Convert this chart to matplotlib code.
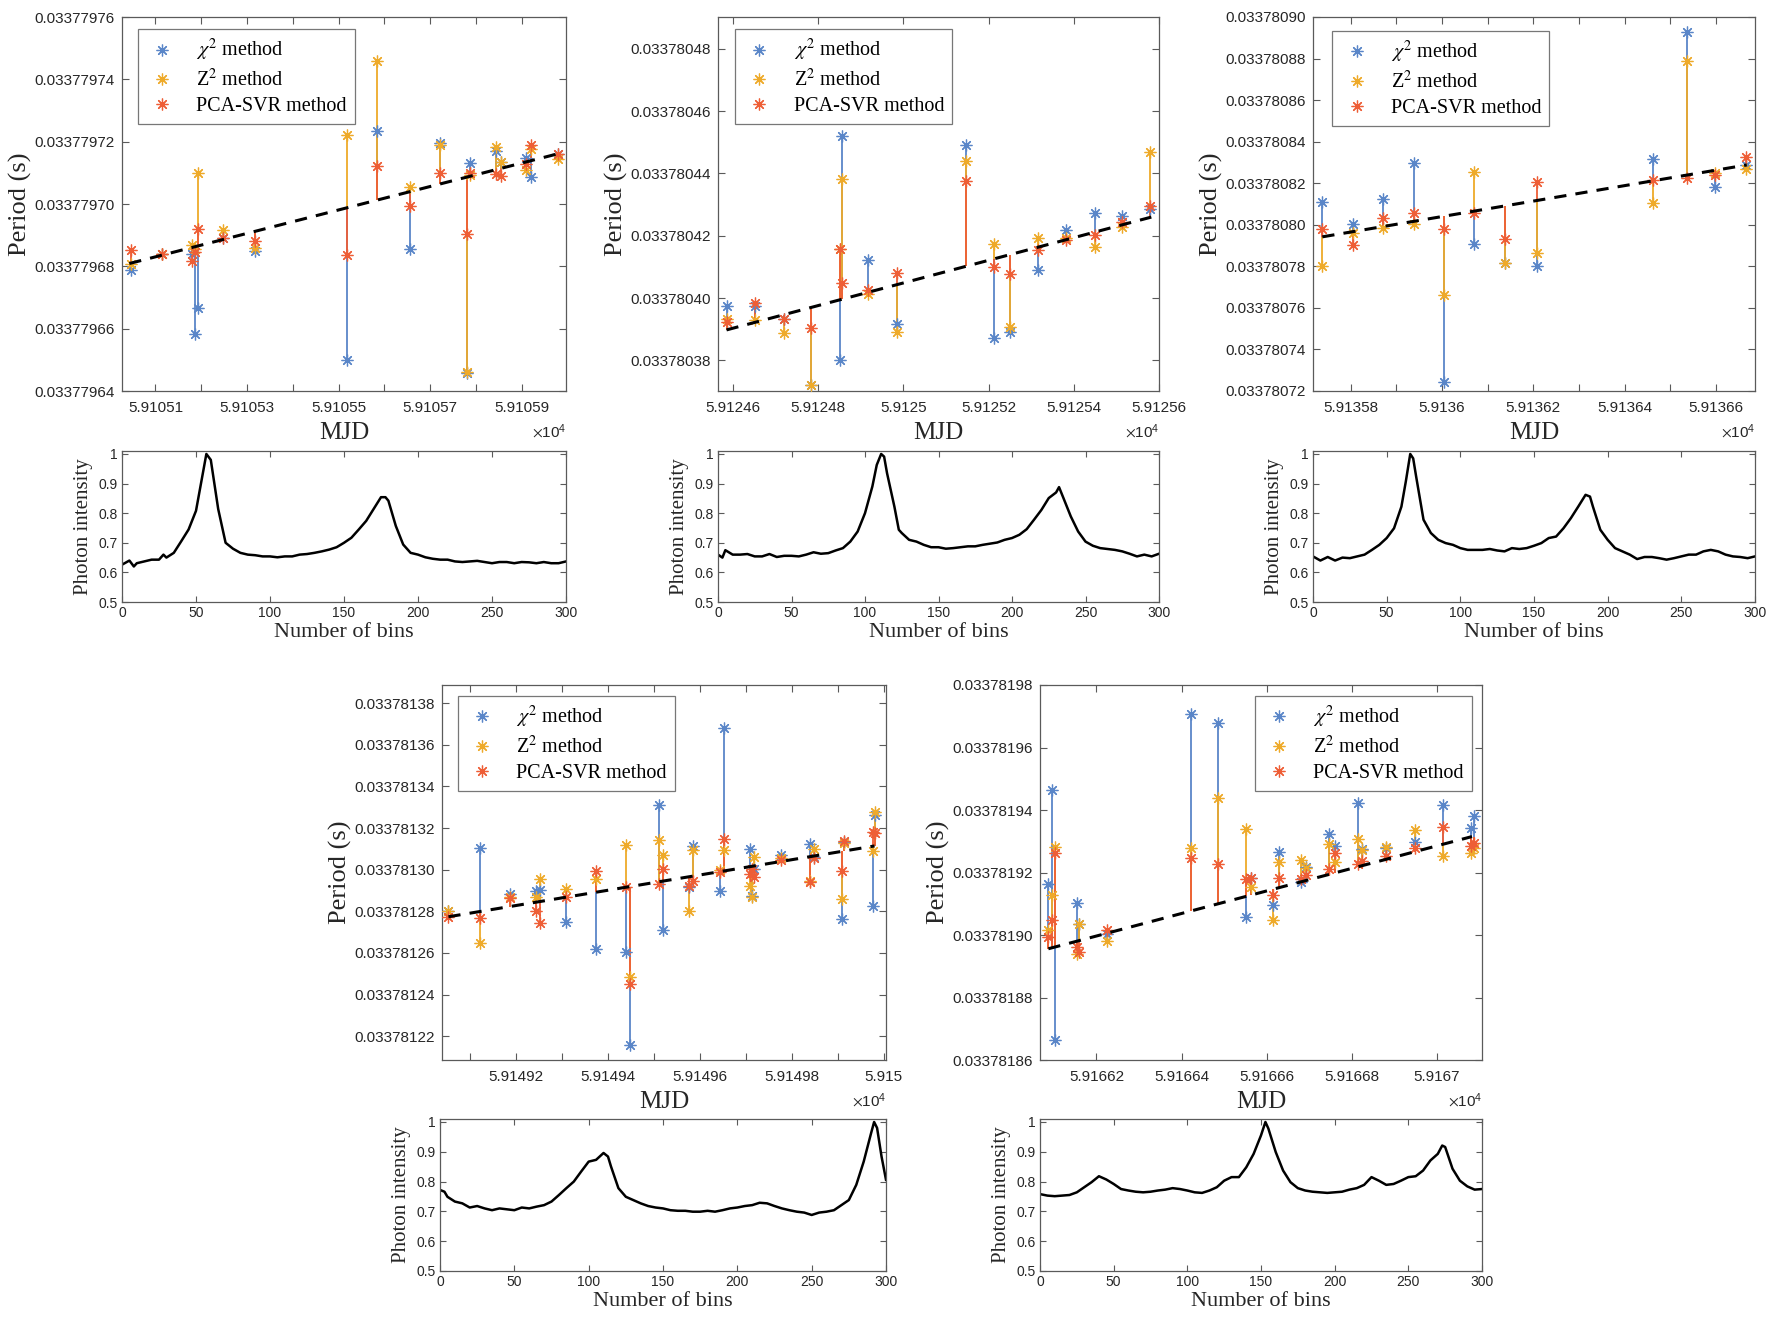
import numpy as np
import matplotlib
matplotlib.use('Agg')
import matplotlib.pyplot as plt
from matplotlib.lines import Line2D
from matplotlib.ticker import FuncFormatter, FixedLocator

plt.rcParams['mathtext.fontset'] = 'stix'

# ---------------- Panel A (MJD ~59105) ----------------
a_mjd = [59105.047, 59105.114, 59105.179, 59105.187, 59105.192, 59105.248, 59105.317, 59105.519, 59105.584,
         59105.657, 59105.722, 59105.780, 59105.788, 59105.845, 59105.855, 59105.910, 59105.920, 59105.979]
a_chi2 = [0.0337796789, 0.0337796838, 0.0337796840, 0.0337796582, 0.0337796665, 0.0337796892, 0.0337796849,
          0.0337796501, 0.0337797234, 0.0337796855, 0.0337797197, 0.0337796458, 0.0337797132, 0.0337797170,
          0.0337797135, 0.0337797149, 0.0337797087, 0.0337797161]
a_z2 = [0.0337796809, 0.0337796838, 0.0337796870, 0.0337796855, 0.0337797100, 0.0337796916, 0.0337796860,
        0.0337797220, 0.0337797459, 0.0337797055, 0.0337797188, 0.0337796461, 0.0337797092, 0.0337797183,
        0.0337797135, 0.0337797110, 0.0337797178, 0.0337797145]
a_pca = [0.0337796853, 0.0337796840, 0.0337796818, 0.0337796845, 0.0337796921, 0.0337796892, 0.0337796881,
         0.0337796835, 0.0337797121, 0.0337796994, 0.0337797100, 0.0337796903, 0.0337797100, 0.0337797097,
         0.0337797089, 0.0337797129, 0.0337797188, 0.0337797161]
a_fit_mjd = [59105.043, 59105.987]
a_fit_period = [0.0337796809, 0.0337797164]
a_yticks = [0.03377964, 0.03377966, 0.03377968, 0.03377970, 0.03377972, 0.03377974, 0.03377976]
a_xticks = [59105.1, 59105.2, 59105.3, 59105.4, 59105.5, 59105.6, 59105.7, 59105.8, 59105.9]

# ---------------- Panel B (MJD ~59125) ----------------
b_mjd = [59124.585, 59124.652, 59124.719, 59124.784, 59124.851, 59124.855, 59124.918, 59124.984,
         59125.146, 59125.212, 59125.250, 59125.317, 59125.381, 59125.449, 59125.513, 59125.580]
b_chi2 = [0.0337803975, 0.0337803975, 0.0337803934, 0.0337803720, 0.0337803802, 0.0337804519, 0.0337804121,
          0.0337803916, 0.0337804492, 0.0337803873, 0.0337803891, 0.0337804091, 0.0337804217, 0.0337804274,
          0.0337804262, 0.0337804287]
b_z2 = [0.0337803934, 0.0337803930, 0.0337803888, 0.0337803720, 0.0337804158, 0.0337804383, 0.0337804014,
        0.0337803891, 0.0337804439, 0.0337804174, 0.0337803907, 0.0337804194, 0.0337804194, 0.0337804164,
        0.0337804228, 0.0337804468]
b_pca = [0.0337803923, 0.0337803984, 0.0337803934, 0.0337803905, 0.0337804158, 0.0337804048, 0.0337804025,
         0.0337804080, 0.0337804375, 0.0337804099, 0.0337804078, 0.0337804155, 0.0337804185, 0.0337804201,
         0.0337804244, 0.0337804295]
b_fit_mjd = [59124.585, 59125.582]
b_fit_period = [0.0337803898, 0.0337804260]
b_yticks = [0.03378038, 0.03378040, 0.03378042, 0.03378044, 0.03378046, 0.03378048]
b_xticks = [59124.6, 59124.8, 59125.0, 59125.2, 59125.4, 59125.6]

# ---------------- Panel C (MJD ~59136) ----------------
c_mjd = [59135.7375, 59135.804, 59135.871, 59135.9375, 59136.004, 59136.071, 59136.139, 59136.207,
         59136.4625, 59136.536, 59136.598, 59136.667]
c_chi2 = [0.0337808108, 0.0337808003, 0.0337808124, 0.0337808296, 0.0337807243, 0.0337807907, 0.0337807817,
          0.0337807801, 0.0337808315, 0.0337808928, 0.0337808183, 0.0337808288]
c_z2 = [0.0337807802, 0.0337807961, 0.0337807986, 0.0337808003, 0.0337807661, 0.0337808256, 0.0337807817,
        0.0337807862, 0.0337808103, 0.0337808786, 0.0337808251, 0.0337808267]
c_pca = [0.0337807978, 0.0337807902, 0.0337808035, 0.0337808059, 0.0337807981, 0.0337808055, 0.0337807931,
         0.0337808207, 0.0337808215, 0.0337808223, 0.0337808240, 0.0337808328]
c_fit_mjd = [59135.7375, 59136.668]
c_fit_period = [0.0337807942, 0.0337808288]
c_yticks = [0.03378072, 0.03378074, 0.03378076, 0.03378078, 0.03378080, 0.03378082, 0.03378084,
            0.03378086, 0.03378088, 0.03378090]
c_xticks = [59135.8, 59135.9, 59136.0, 59136.1, 59136.2, 59136.3, 59136.4, 59136.5, 59136.6]

# ---------------- Panel D (MJD ~59149) ----------------
d_mjd = [59149.053, 59149.1215, 59149.187, 59149.2426, 59149.252, 59149.309, 59149.3745, 59149.4396,
         59149.447, 59149.5105, 59149.5205, 59149.577, 59149.5856, 59149.643, 59149.6524, 59149.7083,
         59149.7134, 59149.7184, 59149.7768, 59149.840, 59149.8477, 59149.9087, 59149.913, 59149.977, 59149.981]
d_chi2 = [0.0337812800, 0.0337813105, 0.0337812884, 0.0337812900, 0.0337812903, 0.0337812750, 0.0337812618,
          0.0337812607, 0.0337812157, 0.0337813310, 0.0337812710, 0.0337812916, 0.0337813114, 0.0337812900,
          0.0337813679, 0.0337813101, 0.0337812876, 0.0337813005, 0.0337813069, 0.0337813122, 0.0337813060,
          0.0337812763, 0.0337813133, 0.0337812824, 0.0337813265]
d_z2 = [0.0337812803, 0.0337812647, 0.0337812871, 0.0337812871, 0.0337812956, 0.0337812908, 0.0337812956,
        0.0337813120, 0.0337812485, 0.0337813144, 0.0337813072, 0.0337812803, 0.0337813096, 0.0337812999,
        0.0337813093, 0.0337812924, 0.0337812868, 0.0337813060, 0.0337813056, 0.0337812948, 0.0337813101,
        0.0337812859, 0.0337813128, 0.0337813089, 0.0337813278]
d_pca = [0.0337812774, 0.0337812766, 0.0337812864, 0.0337812803, 0.0337812742, 0.0337812871, 0.0337812993,
         0.0337812916, 0.0337812449, 0.0337812929, 0.0337813004, 0.0337812920, 0.0337812948, 0.0337812988,
         0.0337813149, 0.0337812977, 0.0337813004, 0.0337812967, 0.0337813048, 0.0337812940, 0.0337813057,
         0.0337812993, 0.0337813136, 0.0337813181, 0.0337813176]
d_fit_mjd = [59149.053, 59149.980]
d_fit_period = [0.0337812774, 0.0337813114]
d_yticks = [0.03378122, 0.03378124, 0.03378126, 0.03378128, 0.03378130, 0.03378132, 0.03378134,
            0.03378136, 0.03378138]
d_xticks = [59149.1, 59149.2, 59149.3, 59149.4, 59149.5, 59149.6, 59149.7, 59149.8, 59149.9, 59150.0]

# ---------------- Panel E (MJD ~59166) ----------------
e_mjd = [59166.087, 59166.096, 59166.1031, 59166.154, 59166.160, 59166.224, 59166.4233, 59166.486,
         59166.5516, 59166.5632, 59166.6143, 59166.6278, 59166.6816, 59166.6933, 59166.747, 59166.7596,
         59166.8143, 59166.8233, 59166.8807, 59166.9489, 59167.0152, 59167.0807, 59167.087]
e_chi2 = [0.0337819163, 0.0337819465, 0.0337818663, 0.0337819101, 0.0337819036, 0.0337819004, 0.0337819707,
          0.0337819680, 0.0337819058, 0.0337819181, 0.0337819095, 0.0337819267, 0.0337819171, 0.0337819219,
          0.0337819324, 0.0337819286, 0.0337819424, 0.0337819275, 0.0337819278, 0.0337819299, 0.0337819415,
          0.0337819342, 0.0337819382]
e_z2 = [0.0337819015, 0.0337819128, 0.0337819281, 0.0337818940, 0.0337819036, 0.0337818980, 0.0337819278,
        0.0337819439, 0.0337819339, 0.0337819154, 0.0337819047, 0.0337819235, 0.0337819240, 0.0337819213,
        0.0337819292, 0.0337819235, 0.0337819307, 0.0337819272, 0.0337819283, 0.0337819335, 0.0337819254,
        0.0337819262, 0.0337819278]
e_pca = [0.0337818994, 0.0337819047, 0.0337819264, 0.0337818961, 0.0337818945, 0.0337819017, 0.0337819246,
         0.0337819227, 0.0337819179, 0.0337819181, 0.0337819128, 0.0337819184, 0.0337819179, 0.0337819192,
         0.0337819210, 0.0337819262, 0.0337819227, 0.0337819238, 0.0337819253, 0.0337819278, 0.0337819345,
         0.0337819286, 0.0337819294]
e_fit_mjd = [59166.087, 59167.0825]
e_fit_period = [0.0337818956, 0.0337819315]
e_yticks = [0.03378186, 0.03378188, 0.03378190, 0.03378192, 0.03378194, 0.03378196, 0.03378198]
e_xticks = [59166.2, 59166.4, 59166.6, 59166.8, 59167.0]

# ---------------- Pulse profiles ----------------
p1_bins = [0, 5, 8, 10, 15, 20, 25, 28, 30, 35, 40, 45, 50, 55, 57, 60, 65, 70, 75, 80, 85, 90, 95, 100, 105,
           110, 115, 120, 125, 130, 135, 140, 145, 150, 155, 160, 165, 170, 175, 178, 180, 185, 190, 195, 200,
           205, 210, 215, 220, 225, 230, 235, 240, 245, 250, 255, 260, 265, 270, 275, 280, 285, 290, 295, 300]
p1_int = [0.626, 0.640, 0.620, 0.631, 0.637, 0.643, 0.643, 0.660, 0.650, 0.666, 0.705, 0.745, 0.808, 0.945,
          1.000, 0.980, 0.814, 0.700, 0.680, 0.666, 0.660, 0.658, 0.654, 0.654, 0.651, 0.654, 0.654, 0.660,
          0.662, 0.666, 0.671, 0.677, 0.685, 0.700, 0.717, 0.745, 0.774, 0.814, 0.854, 0.854, 0.842, 0.757,
          0.694, 0.666, 0.660, 0.651, 0.646, 0.643, 0.643, 0.637, 0.635, 0.637, 0.639, 0.635, 0.631, 0.635,
          0.635, 0.631, 0.635, 0.634, 0.631, 0.635, 0.631, 0.631, 0.637]

p2_bins = [0, 3, 5, 10, 15, 20, 25, 30, 35, 40, 45, 50, 55, 60, 65, 70, 75, 80, 85, 90, 95, 100, 105, 108, 111,
           113, 115, 120, 123, 125, 130, 135, 140, 145, 150, 155, 160, 165, 170, 175, 180, 185, 190, 195, 200,
           205, 210, 215, 220, 225, 230, 232, 235, 240, 245, 250, 255, 260, 265, 270, 275, 280, 285, 290, 295, 300]
p2_int = [0.660, 0.650, 0.675, 0.660, 0.660, 0.662, 0.654, 0.654, 0.662, 0.652, 0.656, 0.656, 0.654, 0.660,
          0.668, 0.663, 0.665, 0.674, 0.682, 0.704, 0.738, 0.800, 0.890, 0.963, 1.000, 0.991, 0.935, 0.822,
          0.744, 0.733, 0.710, 0.704, 0.693, 0.685, 0.685, 0.680, 0.682, 0.685, 0.688, 0.688, 0.693, 0.697,
          0.701, 0.710, 0.716, 0.727, 0.746, 0.778, 0.811, 0.851, 0.870, 0.888, 0.851, 0.789, 0.738, 0.704,
          0.690, 0.682, 0.679, 0.676, 0.671, 0.663, 0.654, 0.660, 0.654, 0.663]

p3_bins = [0, 5, 10, 15, 20, 25, 30, 35, 40, 45, 50, 55, 60, 63, 66, 68, 70, 75, 80, 85, 90, 95, 100, 105, 110,
           115, 120, 125, 130, 135, 140, 145, 150, 155, 160, 165, 170, 175, 180, 185, 188, 190, 195, 200, 205,
           210, 215, 220, 225, 230, 235, 240, 245, 250, 255, 260, 265, 270, 275, 280, 285, 290, 295, 300]
p3_int = [0.654, 0.640, 0.652, 0.640, 0.650, 0.648, 0.654, 0.660, 0.676, 0.693, 0.716, 0.749, 0.822, 0.907,
          1.000, 0.985, 0.924, 0.778, 0.733, 0.710, 0.699, 0.693, 0.682, 0.676, 0.676, 0.676, 0.679, 0.674,
          0.671, 0.682, 0.679, 0.682, 0.690, 0.699, 0.716, 0.721, 0.749, 0.783, 0.822, 0.862, 0.856, 0.822,
          0.744, 0.710, 0.682, 0.671, 0.660, 0.645, 0.652, 0.652, 0.648, 0.643, 0.648, 0.654, 0.660, 0.660,
          0.671, 0.676, 0.671, 0.660, 0.654, 0.652, 0.648, 0.654]

p4_bins = [0, 3, 5, 10, 15, 20, 25, 30, 35, 40, 45, 50, 55, 60, 65, 70, 75, 80, 85, 90, 95, 100, 105, 110, 113,
           115, 120, 125, 130, 135, 140, 145, 150, 155, 160, 165, 170, 175, 180, 185, 190, 195, 200, 205, 210,
           215, 220, 225, 230, 235, 240, 245, 250, 255, 260, 265, 270, 275, 280, 285, 290, 292, 294, 297, 300]
p4_int = [0.772, 0.766, 0.749, 0.733, 0.727, 0.713, 0.718, 0.710, 0.704, 0.710, 0.707, 0.704, 0.713, 0.710,
          0.716, 0.721, 0.733, 0.755, 0.778, 0.800, 0.834, 0.867, 0.873, 0.896, 0.884, 0.851, 0.778, 0.749,
          0.738, 0.727, 0.718, 0.713, 0.710, 0.704, 0.702, 0.702, 0.699, 0.699, 0.702, 0.699, 0.704, 0.710,
          0.713, 0.718, 0.721, 0.729, 0.727, 0.718, 0.710, 0.704, 0.699, 0.696, 0.688, 0.696, 0.699, 0.704,
          0.721, 0.738, 0.789, 0.867, 0.963, 1.000, 0.980, 0.884, 0.806]

p5_bins = [0, 5, 10, 15, 20, 25, 30, 35, 40, 45, 50, 55, 60, 65, 70, 75, 80, 85, 90, 95, 100, 105, 110, 115, 120,
           125, 130, 135, 140, 145, 150, 153, 155, 160, 165, 170, 175, 180, 185, 190, 195, 200, 205, 210, 215,
           220, 225, 230, 235, 240, 245, 250, 255, 260, 265, 270, 273, 275, 280, 285, 290, 295, 300]
p5_int = [0.758, 0.753, 0.751, 0.753, 0.755, 0.764, 0.781, 0.798, 0.818, 0.807, 0.792, 0.775, 0.770, 0.766,
          0.764, 0.766, 0.770, 0.773, 0.778, 0.775, 0.770, 0.764, 0.762, 0.770, 0.781, 0.803, 0.815, 0.815,
          0.848, 0.893, 0.955, 1.000, 0.978, 0.899, 0.837, 0.798, 0.778, 0.770, 0.766, 0.764, 0.762, 0.764,
          0.766, 0.773, 0.778, 0.789, 0.815, 0.803, 0.789, 0.792, 0.803, 0.815, 0.818, 0.837, 0.871, 0.893,
          0.921, 0.916, 0.843, 0.803, 0.784, 0.773, 0.775]

profile_yticks = [0.5, 0.6, 0.7, 0.8, 0.9, 1.0]
profile_xticks = [0, 50, 100, 150, 200, 250, 300]

# ---------------- styling ----------------
C_CHI = '#5A86C8'
C_Z2 = '#EEAA2A'
C_PCA = '#EE5E36'
SANS = 'Liberation Sans'
SERIF = 'Liberation Serif'
AX_COL = '#5a5a5a'
TXT_COL = '#262626'
MK = (8, 2, 0)

W, H = 1778, 1322
fig = plt.figure(figsize=(W / 100, H / 100), dpi=100)


def rect(l, r, t, b):
    return [l / W, 1 - b / H, (r - l) / W, (b - t) / H]


def style_axes(ax, fs):
    for s in ax.spines.values():
        s.set_color(AX_COL)
        s.set_linewidth(0.9)
    ax.tick_params(direction='in', top=True, right=True, length=5, width=0.8, color=AX_COL,
                   labelsize=fs, labelcolor=TXT_COL, pad=5)
    for lab in ax.get_xticklabels() + ax.get_yticklabels():
        lab.set_fontfamily(SANS)


def main_panel(r, mjd, chi2, z2, pca, fit_x, fit_y, xlim, ylim, xticks, yticks, label_every, label_offset,
               legend_anchor, legend_loc):
    ax = fig.add_axes(rect(*r))
    mjd = np.asarray(mjd)
    base = np.interp(mjd, fit_x, fit_y)
    for vals, col in ((chi2, C_CHI), (z2, C_Z2), (pca, C_PCA)):
        ax.vlines(mjd, base, vals, colors=col, linewidth=1.3, zorder=2)
    for vals, col in ((chi2, C_CHI), (z2, C_Z2), (pca, C_PCA)):
        ax.plot(mjd, vals, linestyle='none', marker=MK, markersize=8.5, markeredgewidth=0.9,
                color=col, zorder=3)
    ax.plot(fit_x, fit_y, linestyle=(0, (4, 3)), color='black', linewidth=2.2, zorder=4)
    ax.set_xlim(*xlim)
    ax.set_ylim(*ylim)
    ax.xaxis.set_major_locator(FixedLocator(xticks))
    ax.yaxis.set_major_locator(FixedLocator(yticks))

    def xfmt(v, pos):
        i = int(round((v - xticks[0]) / (xticks[1] - xticks[0])))
        if (i - label_offset) % label_every != 0:
            return ''
        return f'{v / 1e4:.6g}'
    ax.xaxis.set_major_formatter(FuncFormatter(xfmt))
    ax.yaxis.set_major_formatter(FuncFormatter(lambda v, p: f'{v:.8f}'))
    style_axes(ax, 11)
    ax.tick_params(axis='x', pad=7)
    ax.set_ylabel('Period (s)', fontfamily=SERIF, fontsize=19, color=TXT_COL, labelpad=2)
    ax.set_xlabel('MJD', fontfamily=SERIF, fontsize=18, color=TXT_COL, labelpad=5)
    ax.text(1.0, -0.11, r'$\times\mathregular{10^{4}}$', transform=ax.transAxes, ha='right', va='center',
            fontsize=11, color=TXT_COL, fontfamily=SANS)
    handles = [Line2D([], [], linestyle='none', marker=MK, markersize=8.5, markeredgewidth=0.9, color=c)
               for c in (C_CHI, C_Z2, C_PCA)]
    labels = [r'$\chi^2$ method', r'Z$^2$ method', 'PCA-SVR method']
    leg = ax.legend(handles, labels, loc=legend_loc, bbox_to_anchor=legend_anchor, borderaxespad=0,
                    prop={'family': SERIF, 'size': 14.5}, frameon=True, fancybox=False, handletextpad=0.9,
                    handlelength=1.6, borderpad=0.4, labelspacing=0.28)
    leg.get_frame().set_edgecolor('#555555')
    leg.get_frame().set_linewidth(0.9)
    for t in leg.get_texts():
        t.set_color('black')
    return ax


def profile_panel(r, bins, inten):
    ax = fig.add_axes(rect(*r))
    ax.plot(bins, inten, color='black', linewidth=1.8)
    ax.set_xlim(0, 300)
    ax.set_ylim(0.5, 1.01)
    ax.xaxis.set_major_locator(FixedLocator(profile_xticks))
    ax.yaxis.set_major_locator(FixedLocator(profile_yticks))
    ax.yaxis.set_major_formatter(FuncFormatter(lambda v, p: f'{v:g}'))
    style_axes(ax, 10)
    ax.tick_params(length=4, pad=3)
    ax.set_ylabel('Photon intensity', fontfamily=SERIF, fontsize=15, color=TXT_COL, labelpad=4)
    ax.set_xlabel('Number of bins', fontfamily=SERIF, fontsize=16, color=TXT_COL, labelpad=2)
    return ax


main_panel((122, 566, 17, 391), a_mjd, a_chi2, a_z2, a_pca, a_fit_mjd, a_fit_period,
           (59105.027, 59105.997), (0.03377964, 0.03377976), a_xticks, a_yticks, 2, 0,
           (0.036, 0.967), 'upper left')
main_panel((718, 1159, 17, 391), b_mjd, b_chi2, b_z2, b_pca, b_fit_mjd, b_fit_period,
           (59124.565, 59125.600), (0.0337803702, 0.0337804902), b_xticks, b_yticks, 1, 0,
           (0.039, 0.967), 'upper left')
main_panel((1313, 1755, 17, 391), c_mjd, c_chi2, c_z2, c_pca, c_fit_mjd, c_fit_period,
           (59135.717, 59136.686), (0.03378072, 0.03378090), c_xticks, c_yticks, 2, 0,
           (0.044, 0.962), 'upper left')
main_panel((442, 886, 685, 1060), d_mjd, d_chi2, d_z2, d_pca, d_fit_mjd, d_fit_period,
           (59149.039, 59150.005), (0.0337812086, 0.0337813887), d_xticks, d_yticks, 2, 1,
           (0.036, 0.97), 'upper left')
main_panel((1040, 1482, 685, 1060), e_mjd, e_chi2, e_z2, e_pca, e_fit_mjd, e_fit_period,
           (59166.0673, 59167.106), (0.03378186, 0.03378198), e_xticks, e_yticks, 1, 0,
           (0.977, 0.97), 'upper right')

profile_panel((122, 566, 451, 602), p1_bins, p1_int)
profile_panel((718, 1159, 451, 602), p2_bins, p2_int)
profile_panel((1313, 1755, 451, 602), p3_bins, p3_int)
profile_panel((440, 886, 1119, 1271), p4_bins, p4_int)
profile_panel((1040, 1482, 1119, 1271), p5_bins, p5_int)

fig.savefig('out.png', dpi=100, facecolor='white')
